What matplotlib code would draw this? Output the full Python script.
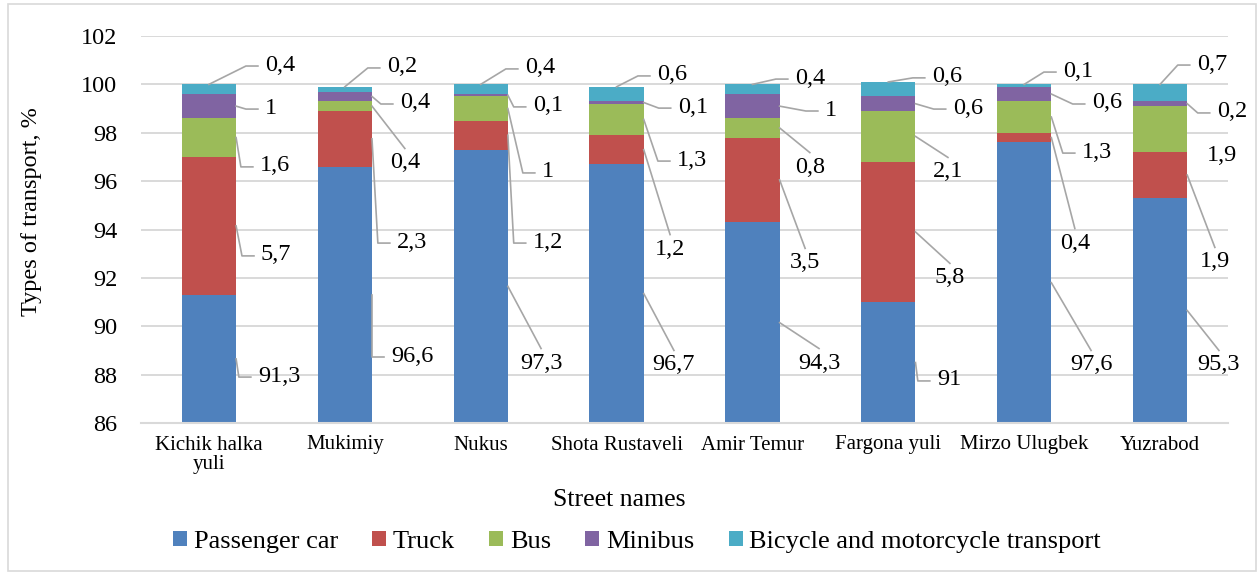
import numpy as np
import matplotlib.pyplot as plt
from matplotlib.patches import Rectangle

plt.rcParams['font.family'] = ['Liberation Serif', 'DejaVu Serif']

streets = ["Kichik halka\nyuli", "Mukimiy", "Nukus", "Shota Rustaveli",
           "Amir Temur", "Fargona yuli", "Mirzo Ulugbek", "Yuzrabod"]
transport = ["Passenger car", "Truck", "Bus", "Minibus",
             "Bicycle and motorcycle transport"]

passenger_car = [91.3, 96.6, 97.3, 96.7, 94.3, 91, 97.6, 95.3]
truck = [5.7, 2.3, 1.2, 1.2, 3.5, 5.8, 0.4, 1.9]
bus = [1.6, 0.4, 1, 1.3, 0.8, 2.1, 1.3, 1.9]
minibus = [1, 0.4, 0.1, 0.1, 1, 0.6, 0.6, 0.2]
bicycle = [0.4, 0.2, 0.4, 0.6, 0.4, 0.6, 0.1, 0.7]

series = [passenger_car, truck, bus, minibus, bicycle]
colors = ["#4F81BD", "#C0504D", "#9BBB59", "#8064A2", "#4BACC6"]

# data label placement: x offset from bar centre, y in axis units,
# leader style (s = elbow from the side, t = to the top of the label, n = none)
lab_dx = [
    [0.36, 0.339, 0.288, 0.266, 0.334, 0.357, 0.336, 0.277],
    [0.383, 0.383, 0.383, 0.282, 0.276, 0.342, 0.262, 0.292],
    [0.375, 0.331, 0.45, 0.444, 0.312, 0.327, 0.424, 0.344],
    [0.412, 0.405, 0.383, 0.45, 0.533, 0.474, 0.497, 0.417],
    [0.412, 0.309, 0.325, 0.297, 0.312, 0.32, 0.285, 0.27],
]
lab_y = [
    [87.94, 88.77, 88.48, 88.4, 88.48, 87.78, 88.4, 88.4],
    [92.95, 93.48, 93.48, 93.19, 92.62, 92.0, 93.44, 92.66],
    [96.63, 96.75, 96.38, 96.87, 96.58, 96.38, 97.2, 97.04],
    [99.02, 99.23, 99.11, 99.06, 98.94, 99.02, 99.23, 98.86],
    [100.8, 100.72, 100.68, 100.39, 100.26, 100.31, 100.55, 100.84],
]
lab_mode = [
    "sstttstt",
    "sssttttt",
    "stssttsn",
    "ssssssss",
    "ssssssss",
]

YMIN, YMAX = 86, 102

fig = plt.figure(figsize=(12.59, 5.75), dpi=100)
ax = fig.add_axes([141 / 1259, 1 - 423 / 575, 1087 / 1259, 387 / 575])

x = np.arange(len(streets))
w = 0.4
bottom = np.zeros(len(streets))
bars = []
for vals, col, name in zip(series, colors, transport):
    ax.bar(x, vals, w, bottom=bottom, color=col, label=name, zorder=2)
    bars.append((bottom.copy(), bottom + np.array(vals)))
    bottom = bottom + np.array(vals)

ax.set_xlim(-0.5, len(streets) - 0.5)
ax.set_ylim(YMIN, YMAX)
ax.set_yticks(np.arange(YMIN, YMAX + 1, 2))
ax.set_xticks(x)
ax.set_xticklabels(streets, fontsize=15, linespacing=1.05)
ax.tick_params(axis='y', length=0, pad=17, labelsize=17.5)
ax.tick_params(axis='x', length=0, pad=9)

ax.yaxis.grid(True, color="#d9d9d9", linewidth=1.4, zorder=0)
ax.set_axisbelow(True)
for s in ["top", "right", "left"]:
    ax.spines[s].set_visible(False)
ax.spines["bottom"].set_color("#d9d9d9")
ax.spines["bottom"].set_linewidth(1.5)

fig.text(619 / 1259, 1 - 500 / 575, "Street names", fontsize=18.5,
         ha="center", va="center")
fig.text(32 / 1259, 1 - 212 / 575, "Types of transport, %", fontsize=17.5,
         rotation=90, ha="center", va="center")

fig.legend(loc="center", bbox_to_anchor=(637 / 1259, 1 - 542 / 575),
           ncol=5, frameon=False, fontsize=19, handlelength=0.53,
           handleheight=0.53, handletextpad=0.25, columnspacing=1.3)

# data labels
texts = []
for k, vals in enumerate(series):
    for i, v in enumerate(vals):
        txt = f"{v:g}".replace(".", ",")
        t = ax.text(i + lab_dx[k][i], lab_y[k][i], txt, fontsize=17.5,
                    ha="left", va="center", zorder=4)
        texts.append((k, i, t))

fig.canvas.draw()
renderer = fig.canvas.get_renderer()
to_disp = ax.transData.transform
to_data = ax.transData.inverted().transform

# leader lines from each segment to its label
for k, i, t in texts:
    mode = lab_mode[k][i]
    if mode == "n":
        continue
    lo = max(bars[k][0][i], YMIN)
    hi = bars[k][1][i]
    if k == len(series) - 1:
        anchor = (i, hi)
    else:
        anchor = (i + w / 2, (lo + hi) / 2)
    px, py = to_disp(anchor)
    bb = t.get_window_extent(renderer)
    cy = (bb.y0 + bb.y1) / 2 - 1
    if mode == "s":
        ex = max(bb.x0 - 19, px)
        pts = [(px, py), (ex, cy), (bb.x0 - 7, cy)]
    else:
        pts = [(px, py), ((bb.x0 + bb.x1) / 2, bb.y1 + 4)]
    pts = to_data(np.array(pts))
    ax.plot(pts[:, 0], pts[:, 1], color="#a6a6a6", linewidth=1.2,
            clip_on=False, zorder=3)

fig.patches.append(Rectangle((8 / 1259, 4 / 575), 1248 / 1259, 567 / 575,
                             transform=fig.transFigure, fill=False,
                             edgecolor="#d9d9d9", linewidth=1.2))

fig.savefig("out.png", dpi=100)
